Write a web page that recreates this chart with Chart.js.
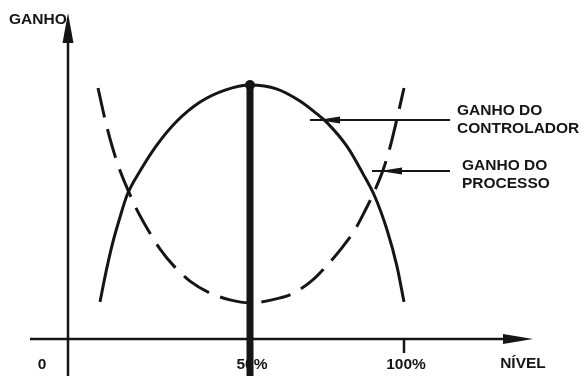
<!DOCTYPE html>
<html>
<head>
<meta charset="utf-8">
<script src="https://cdn.jsdelivr.net/npm/chart.js@4/dist/chart.umd.min.js"></script>
<style>
  body { margin: 0; background: #fff; }
  #wrap { width: 586px; height: 376px; }
</style>
</head>
<body>
<div id="wrap"><canvas id="gainChart"></canvas></div>
<script>
// level in %, gain in relative units (peak of controller gain = 100)
const controllerLevel = [1.3, 3.25, 5.5, 7.8, 10.1, 14.3, 19.8, 26.3, 33.8, 41.9, 50, 58.8, 66.2, 71.75, 75.0, 81.5, 86.7, 90.6, 94.5, 97.7, 100];
const controllerGain  = [14.6, 26.4, 38.2, 48.0, 56.7, 66.1, 76.4, 85.8, 93.3, 98.0, 100, 98.4, 93.7, 88.6, 85.2, 75.8, 65.0, 55.9, 42.9, 28.7, 14.6];

const processLevel = [0.65, 2.9, 5.2, 7.5, 10.1, 13.3, 16.9, 20.8, 25.6, 30.5, 37.0, 43.5, 50, 57.1, 63.6, 70.1, 75.0, 79.9, 83.8, 87.3, 90.6, 93.2, 95.5, 97.7, 100];
const processGain  = [98.8, 86.6, 76.0, 67.3, 59.4, 50.8, 42.9, 35.4, 28.3, 22.8, 18.1, 15.4, 14.2, 15.4, 17.7, 23.0, 29.0, 36.0, 42.5, 50.4, 58.7, 66.5, 75.6, 86.6, 98.8];

const tickValues = [50, 100];
const tickLabels = ['50%', '100%'];

function toPoints(xs, ys) {
  return xs.map((x, i) => ({ x: x, y: ys[i] }));
}

const ink = '#151515';
const font = "bold 15.5px 'Liberation Sans', Arial, sans-serif";

const sketchAxes = {
  id: 'sketchAxes',
  afterDatasetsDraw(chart) {
    const c = chart.ctx;
    const xs = chart.scales.x, ys = chart.scales.y;
    const X = v => xs.getPixelForValue(v);
    const Y = v => ys.getPixelForValue(v);
    const bottom = chart.chartArea.bottom;

    c.save();
    c.fillStyle = ink;
    c.strokeStyle = ink;

    // texts
    c.font = font;
    c.textBaseline = 'alphabetic';
    c.textAlign = 'left';
    c.fillText('GANHO', 9, 24);
    c.fillText('GANHO DO', 457, 115);
    c.fillText('CONTROLADOR', 457, 133);
    c.fillText('GANHO DO', 462, 170);
    c.fillText('PROCESSO', 462, 188);
    c.textAlign = 'center';
    c.fillText('0', 42, 369);
    tickValues.forEach((v, i) => c.fillText(tickLabels[i], X(v) + 2, 369));
    c.fillText('NÍVEL', 523, 368);

    // y axis with arrow
    const y0 = Y(0);
    c.lineWidth = 2.5;
    c.beginPath();
    c.moveTo(68, bottom);
    c.lineTo(68, 40);
    c.stroke();
    c.beginPath();
    c.moveTo(68, 13);
    c.lineTo(73.5, 43);
    c.lineTo(62.5, 43);
    c.closePath();
    c.fill();

    // x axis with arrow
    c.beginPath();
    c.moveTo(30, y0);
    c.lineTo(505, y0);
    c.stroke();
    c.beginPath();
    c.moveTo(533, y0);
    c.lineTo(503, y0 - 5);
    c.lineTo(503, y0 + 5);
    c.closePath();
    c.fill();

    // 100% tick
    c.beginPath();
    c.moveTo(X(100), y0);
    c.lineTo(X(100), y0 + 14);
    c.stroke();

    // 50% thick line with dot
    c.lineWidth = 7;
    c.beginPath();
    c.moveTo(X(50), Y(100));
    c.lineTo(X(50), bottom);
    c.stroke();
    c.beginPath();
    c.arc(X(50), Y(100), 5, 0, Math.PI * 2);
    c.fill();

    // pointer arrows
    function pointer(yp, x1, tip, base) {
      c.lineWidth = 2;
      c.beginPath();
      c.moveTo(x1, yp);
      c.lineTo(450, yp);
      c.stroke();
      c.beginPath();
      c.moveTo(tip, yp);
      c.lineTo(base, yp - 3.5);
      c.lineTo(base, yp + 3.5);
      c.closePath();
      c.fill();
    }
    pointer(120, 310, 318, 340);
    pointer(171, 372, 380, 402);

    c.restore();
  }
};

new Chart(document.getElementById('gainChart'), {
  type: 'line',
  data: {
    datasets: [{
      label: 'Ganho do controlador',
      data: toPoints(controllerLevel, controllerGain),
      borderColor: ink,
      borderWidth: 3,
      pointRadius: 0,
      cubicInterpolationMode: 'monotone',
      fill: false
    }, {
      label: 'Ganho do processo',
      data: toPoints(processLevel, processGain),
      borderColor: ink,
      borderWidth: 3,
      borderDash: [30, 12],
      pointRadius: 0,
      cubicInterpolationMode: 'monotone',
      fill: false
    }]
  },
  options: {
    responsive: true,
    maintainAspectRatio: false,
    animation: false,
    layout: { padding: 0 },
    plugins: { legend: { display: false }, tooltip: { enabled: false } },
    scales: {
      x: { type: 'linear', display: false, min: -31.17, max: 159.09 },
      y: { type: 'linear', display: false, min: -14.57, max: 133.46 }
    }
  },
  plugins: [sketchAxes]
});
</script>
</body>
</html>
